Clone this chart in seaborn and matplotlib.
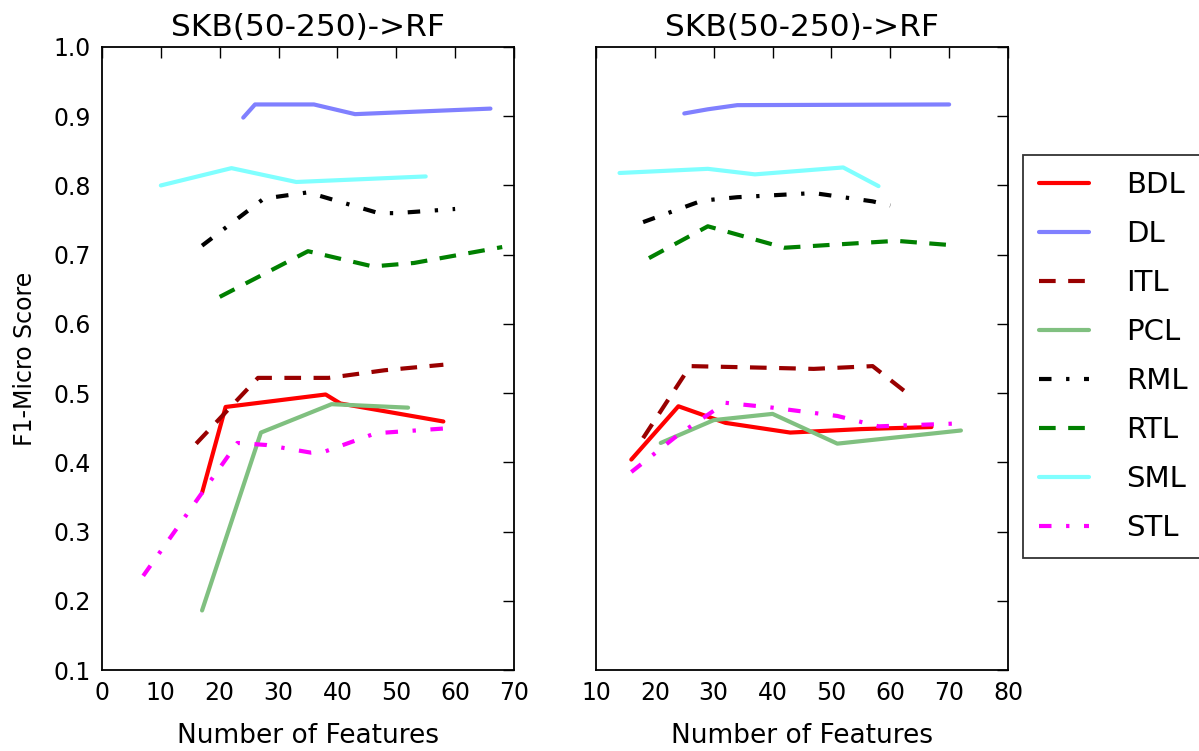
import pandas as pd
import matplotlib
matplotlib.use("Agg")
import matplotlib.pyplot as plt
import seaborn as sns

# -----------------------------
# Data
# -----------------------------
names = ["BDL", "DL", "ITL", "PCL", "RML", "RTL", "SML", "STL"]

# left panel
left_bdl_x = [17, 21, 38, 40.5, 58]
left_bdl_y = [0.356, 0.480, 0.498, 0.485, 0.459]
left_dl_x = [24, 26, 36, 43, 66]
left_dl_y = [0.898, 0.917, 0.917, 0.903, 0.911]
left_itl_x = [16, 26.5, 38.5, 48, 58]
left_itl_y = [0.427, 0.522, 0.522, 0.533, 0.541]
left_pcl_x = [17, 27, 39, 52]
left_pcl_y = [0.186, 0.443, 0.484, 0.479]
left_rml_x = [17, 27.5, 35, 47, 50, 60]
left_rml_y = [0.713, 0.781, 0.790, 0.760, 0.760, 0.766]
left_rtl_x = [20, 35, 46, 53, 68]
left_rtl_y = [0.639, 0.705, 0.683, 0.688, 0.711]
left_sml_x = [10, 22, 33, 55]
left_sml_y = [0.800, 0.825, 0.805, 0.813]
left_stl_x = [7, 17, 23, 28, 35.5, 38, 46.5, 60]
left_stl_y = [0.236, 0.356, 0.428, 0.425, 0.414, 0.416, 0.442, 0.450]

# right panel
right_bdl_x = [16, 24, 32, 43, 55, 67]
right_bdl_y = [0.404, 0.481, 0.457, 0.443, 0.448, 0.451]
right_dl_x = [25, 29, 34, 70]
right_dl_y = [0.904, 0.910, 0.916, 0.917]
right_itl_x = [18, 26, 37, 47, 57, 63]
right_itl_y = [0.435, 0.539, 0.537, 0.535, 0.539, 0.499]
right_pcl_x = [21, 30, 40, 51, 72]
right_pcl_y = [0.428, 0.461, 0.470, 0.427, 0.446]
right_rml_x = [18, 28, 34, 47, 57, 60]
right_rml_y = [0.747, 0.778, 0.783, 0.789, 0.777, 0.771]
right_rtl_x = [19, 29, 42, 61, 70]
right_rtl_y = [0.695, 0.741, 0.710, 0.720, 0.714]
right_sml_x = [14, 29, 37, 52, 58]
right_sml_y = [0.818, 0.824, 0.816, 0.826, 0.799]
right_stl_x = [16, 24, 32, 40, 51, 58, 71]
right_stl_y = [0.386, 0.440, 0.486, 0.479, 0.467, 0.452, 0.456]

left_data = {
    "BDL": (left_bdl_x, left_bdl_y), "DL": (left_dl_x, left_dl_y),
    "ITL": (left_itl_x, left_itl_y), "PCL": (left_pcl_x, left_pcl_y),
    "RML": (left_rml_x, left_rml_y), "RTL": (left_rtl_x, left_rtl_y),
    "SML": (left_sml_x, left_sml_y), "STL": (left_stl_x, left_stl_y),
}
right_data = {
    "BDL": (right_bdl_x, right_bdl_y), "DL": (right_dl_x, right_dl_y),
    "ITL": (right_itl_x, right_itl_y), "PCL": (right_pcl_x, right_pcl_y),
    "RML": (right_rml_x, right_rml_y), "RTL": (right_rtl_x, right_rtl_y),
    "SML": (right_sml_x, right_sml_y), "STL": (right_stl_x, right_stl_y),
}

# -----------------------------
# Styles
# -----------------------------
colors = {
    "BDL": "#ff0000", "DL": "#8080ff", "ITL": "#990000", "PCL": "#80c080",
    "RML": "#000000", "RTL": "#008000", "SML": "#80ffff", "STL": "#ff00ff",
}
styles = {
    "BDL": "-", "DL": "-", "ITL": (0, (4, 3)), "PCL": "-",
    "RML": (0, (3, 3.5, 0.8, 3.5)), "RTL": (0, (4, 3)), "SML": "-",
    "STL": (0, (3, 3.5, 0.8, 3.5)),
}

sns.set_style("white")
plt.rcParams["font.family"] = ["DejaVu Sans"]
plt.rcParams["text.color"] = "black"
plt.rcParams["axes.labelcolor"] = "black"

fig = plt.figure(figsize=(11.99, 7.51), dpi=100)
ax1 = fig.add_axes([102 / 1199, 1 - 670 / 751, 412 / 1199, 623 / 751])
ax2 = fig.add_axes([596 / 1199, 1 - 670 / 751, 412 / 1199, 623 / 751])

for ax, data, xlim in [(ax1, left_data, (0, 70)), (ax2, right_data, (10, 80))]:
    for name in names:
        xs, ys = data[name]
        df = pd.DataFrame({"x": xs, "y": ys})
        sns.lineplot(data=df, x="x", y="y", ax=ax, sort=False,
                     color=colors[name], linestyle=styles[name],
                     linewidth=3, label=name, legend=False)
    ax.set_xlim(*xlim)
    ax.set_ylim(0.1, 1.0)
    ax.set_xticks(range(xlim[0], xlim[1] + 1, 10))
    ax.set_yticks([0.1 * i for i in range(1, 11)])
    ax.tick_params(direction="in", top=True, right=True, length=8,
                   width=1, labelsize=17, colors="black", pad=8)
    for sp in ax.spines.values():
        sp.set_color("black")
        sp.set_linewidth(1.3)
    ax.set_title("SKB(50-250)->RF", fontsize=22.5, pad=8, color="black")
    ax.set_xlabel("Number of Features", fontsize=19, labelpad=13)
    ax.set_ylabel("")

ax1.set_yticklabels([f"{0.1 * i:.1f}" for i in range(1, 11)])
ax2.set_yticklabels([])
ax1.set_ylabel("F1-Micro Score", fontsize=17, labelpad=12)

handles, labels = ax1.get_legend_handles_labels()
leg = fig.legend(handles, labels, loc="upper left",
                 bbox_to_anchor=(1023 / 1199, 1 - 155 / 751),
                 borderaxespad=0, fontsize=21, frameon=True, fancybox=False,
                 handlelength=1.7, handletextpad=1.3, labelspacing=0.72,
                 borderpad=0.55)
leg.get_frame().set_edgecolor("black")
leg.get_frame().set_linewidth(1.3)

plt.savefig("out.png", dpi=100)
